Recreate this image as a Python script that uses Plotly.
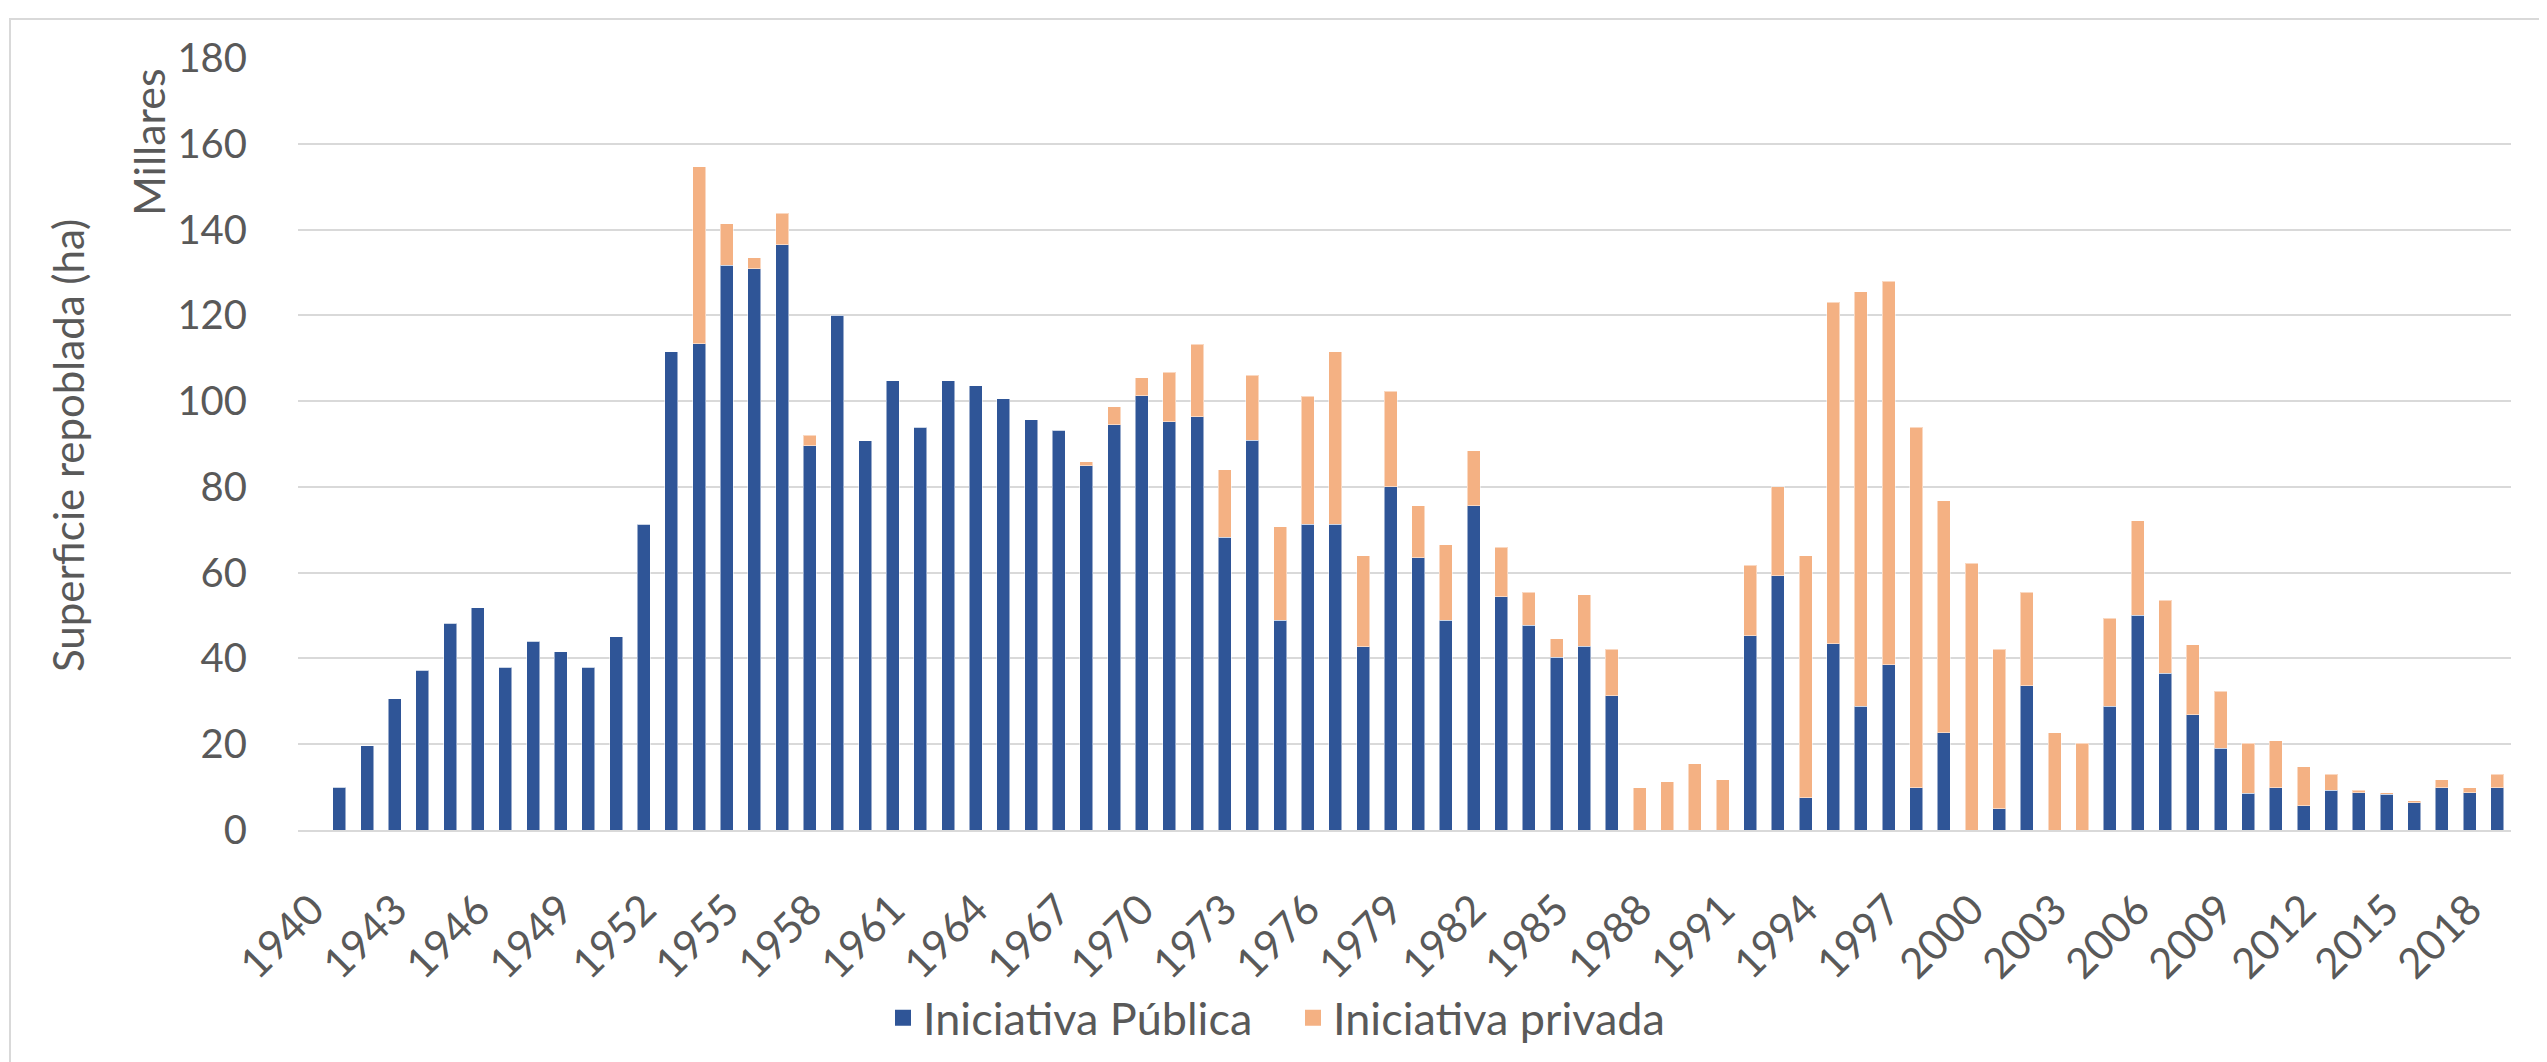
import plotly.graph_objects as go

years = [str(y) for y in range(1940, 2020)]

publica = [
    0, 10.0, 19.6, 30.6, 37.3, 48.2, 51.8, 37.9, 44.0, 41.6,
    37.9, 45.1, 71.3, 111.5, 113.4, 131.7, 130.9, 136.5, 89.6, 120.0,
    90.8, 104.7, 93.9, 104.7, 103.6, 100.6, 95.6, 93.2, 84.9, 94.5,
    101.2, 95.2, 96.3, 68.3, 90.9, 48.9, 71.3, 71.3, 42.7, 80.0,
    63.5, 48.9, 75.6, 54.4, 47.7, 40.3, 42.8, 31.3, 0, 0,
    0, 0, 45.3, 59.3, 7.5, 43.4, 28.8, 38.5, 9.9, 22.7,
    0, 5.0, 33.6, 0, 0, 28.8, 50.1, 36.6, 26.9, 19.1,
    8.6, 9.9, 5.6, 9.3, 8.7, 8.3, 6.3, 9.9, 8.7, 9.9,
]

privada = [
    0, 0, 0, 0, 0, 0, 0, 0, 0, 0,
    0, 0, 0, 0, 41.3, 9.6, 2.5, 7.3, 2.4, 0,
    0, 0, 0, 0, 0, 0, 0, 0, 1.0, 4.2,
    4.3, 11.5, 17.0, 15.7, 15.1, 21.8, 29.8, 40.2, 21.3, 22.3,
    12.1, 17.6, 12.8, 11.5, 7.7, 4.3, 12.1, 10.8, 9.9, 11.2,
    15.4, 11.7, 16.4, 20.7, 56.5, 79.7, 96.7, 89.4, 84.0, 54.1,
    62.2, 37.1, 21.8, 22.7, 20.2, 20.6, 22.0, 17.0, 16.3, 13.2,
    11.6, 10.9, 9.1, 3.7, 0.6, 0.4, 0.5, 1.8, 1.2, 3.1,
]

series_names = ["Iniciativa Pública", "Iniciativa privada"]
tick_years = years[::3]

BLUE = "#2F5597"
ORANGE = "#F4B183"
TXT = "#595959"
GRID = "#D9D9D9"
FONT = "Lato"

fig = go.Figure()
for vals, name, col in [(publica, series_names[0], BLUE), (privada, series_names[1], ORANGE)]:
    fig.add_trace(go.Bar(x=years, y=vals, name=name, showlegend=False, legendgroup=name,
                         marker=dict(color=col, line=dict(color="rgba(255,255,255,0.5)", width=1))))
# legend entries with larger square symbols
for name, col in [(series_names[0], BLUE), (series_names[1], ORANGE)]:
    fig.add_trace(go.Scatter(x=[None], y=[None], mode="markers", name=name, legendgroup=name,
                             marker=dict(symbol="square", size=16, color=col), showlegend=True))

W, H = 2547, 1062
L, R, T, B = 290, 44, 50, 240
pw = W - L - R
ph = H - T - B

def px(x):
    return (x - L) / pw

def py(y):
    return (H - B - y) / ph

fig.update_layout(
    width=W, height=H, autosize=False,
    margin=dict(l=L, r=R, t=T, b=B),
    barmode="stack", bargap=0.53,
    plot_bgcolor="white", paper_bgcolor="white",
    font=dict(family=FONT, color=TXT, size=40),
    showlegend=True,
    legend=dict(orientation="h", x=px(1285), xanchor="center", y=py(1010), yanchor="middle",
                font=dict(family=FONT, size=45, color=TXT), traceorder="normal",
                entrywidth=365, entrywidthmode="pixels", itemsizing="trace"),
    xaxis=dict(type="category", tickmode="array", tickvals=tick_years, ticktext=tick_years,
               tickangle=-45, tickfont=dict(family=FONT, size=42, color=TXT),
               showgrid=False, showline=True, linecolor=GRID, linewidth=2,
               ticks="", ticklabelstandoff=36),
    yaxis=dict(range=[0, 180], dtick=20, tick0=0, showgrid=True, gridcolor=GRID, gridwidth=2,
               zeroline=False, showline=False, ticks="", ticklabelstandoff=50,
               tickfont=dict(family=FONT, size=40, color=TXT)),
    annotations=[
        dict(text="Superficie repoblada (ha)", textangle=-90, xref="paper", yref="paper",
             x=px(60), y=py(438), xanchor="center", yanchor="middle", showarrow=False,
             font=dict(family=FONT, size=42, color=TXT)),
        dict(text="Millares", textangle=-90, xref="paper", yref="paper",
             x=px(140), y=py(134), xanchor="center", yanchor="middle", showarrow=False,
             font=dict(family=FONT, size=43, color=TXT)),
    ],
    shapes=[
        dict(type="rect", xref="paper", yref="paper", x0=px(2), x1=px(2600), y0=py(1100), y1=py(11),
             line=dict(color=GRID, width=2), layer="below"),
    ],
)

fig.write_html("out.html")
